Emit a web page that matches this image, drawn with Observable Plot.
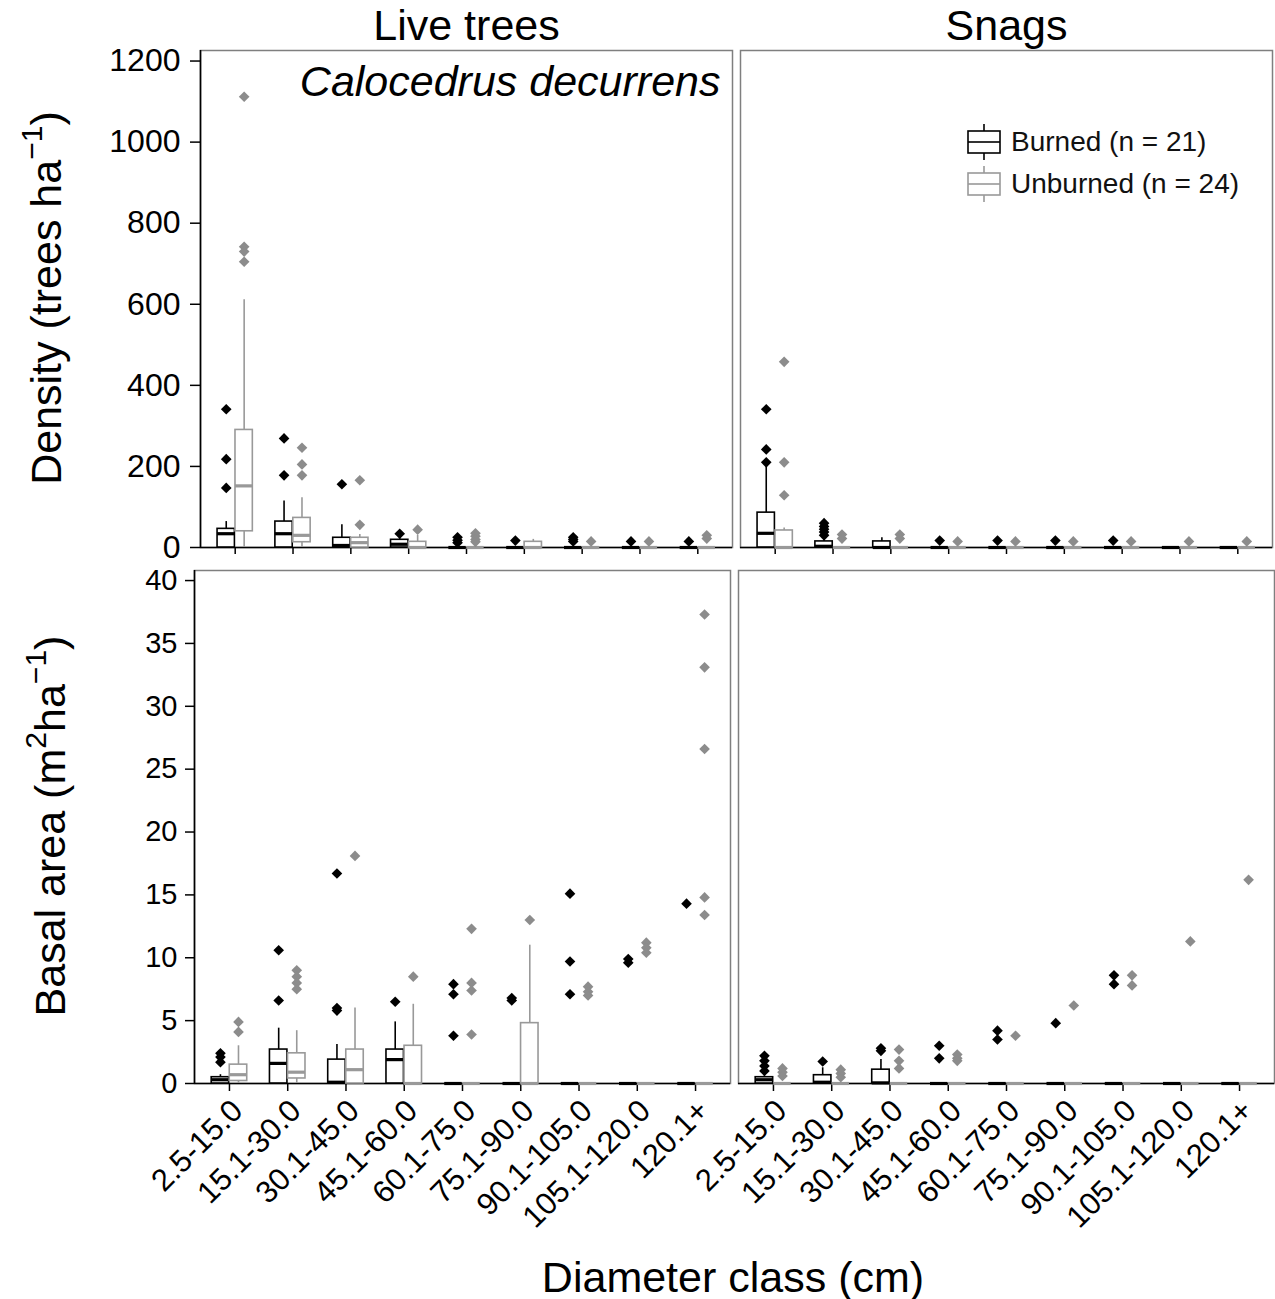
<!DOCTYPE html>
<html><head><meta charset="utf-8">
<script src="https://cdn.jsdelivr.net/npm/d3@7"></script>
<script src="https://cdn.jsdelivr.net/npm/@observablehq/plot@0.6"></script>
<style>
body{margin:0;background:#fff;font-family:"Liberation Sans",Arial,sans-serif;}
#wrap{position:relative;width:1275px;height:1299px;overflow:hidden;background:#fff}
#wrap svg{display:block}
.ytitle{position:absolute;white-space:nowrap;font-size:43px;color:#000;transform:translate(-50%,-50%) rotate(-90deg);line-height:1}
.ytitle sup{font-size:0.7em;vertical-align:0.6em;line-height:0}
.xtitle{position:absolute;white-space:nowrap;font-size:43px;color:#000;transform:translate(-50%,-50%);line-height:1}
.legend{position:absolute;left:965px;top:121px;}
.legend .row{display:flex;align-items:center;height:42px;font-size:28px;color:#111}
.legend svg{margin-right:8px}
</style></head><body><div id="wrap"></div><script>
const classes = ["2.5-15.0","15.1-30.0","30.1-45.0","45.1-60.0","60.1-75.0","75.1-90.0","90.1-105.0","105.1-120.0","120.1+"];
const panels = ["Live trees","Snags"];
const groups = ["Burned","Unburned"];
const yTicksDensity = [0,200,400,600,800,1000,1200];
const yTicksBasal = [0,5,10,15,20,25,30,35,40];

// box summaries per diameter class: [lower whisker, Q1, median, Q3, upper whisker]
const liveDensityBurned = [[0,0,34,46,64],[0,0,34,64,115],[0,0,5,24,56],[0,0,8,19,25],[0,0,0,0,0],[0,0,0,0,0],[0,0,0,0,0],[0,0,0,0,0],[0,0,0,0,0]];
const liveDensityBurnedOut = [[341,218,147],[269,178],[156],[34],[25,18,12],[17],[25,20,15],[15],[15]];
const liveDensityUnburned = [[0,40,152,290,611],[0,13,30,73,123],[0,0,12,24,32],[0,0,0,14,30],[0,0,0,0,0],[0,0,0,14,20],[0,0,0,0,0],[0,0,0,0,0],[0,0,0,0,0]];
const liveDensityUnburnedOut = [[1112,742,730,705],[246,205,178],[166,56],[44],[35,28,20,14],[],[15],[15],[30,22]];
const snagDensityBurned = [[0,0,35,86,205],[0,0,3,15,25],[0,0,0,15,24],[0,0,0,0,0],[0,0,0,0,0],[0,0,0,0,0],[0,0,0,0,0],[0,0,0,0,0],[0,0,0,0,0]];
const snagDensityBurnedOut = [[341,242,210],[60,52,45,38,30],[],[17],[17],[17],[17],[],[]];
const snagDensityUnburned = [[0,0,0,42,48],[0,0,0,0,0],[0,0,0,0,0],[0,0,0,0,0],[0,0,0,0,0],[0,0,0,0,0],[0,0,0,0,0],[0,0,0,0,0],[0,0,0,0,0]];
const snagDensityUnburnedOut = [[458,210,129],[32,22],[32,22],[15],[15],[15],[15],[15],[15]];

const liveBasalBurned = [[0,0,0.3,0.5,0.7],[0,0,1.6,2.7,4.4],[0,0,0.1,1.9,3.1],[0,0,1.9,2.7,4.9],[0,0,0,0,0],[0,0,0,0,0],[0,0,0,0,0],[0,0,0,0,0],[0,0,0,0,0]];
const liveBasalBurnedOut = [[2.4,2.1,1.7],[10.6,6.6],[16.7,6.0,5.8],[6.5],[7.9,7.1,3.8],[6.8,6.6],[15.1,9.7,7.1],[9.9,9.6],[14.3]];
const liveBasalUnburned = [[0,0.2,0.7,1.5,3.0],[0,0.4,0.9,2.4,4.2],[0,0,1.1,2.7,6.0],[0,0,0,3.0,6.3],[0,0,0,0,0],[0,0,0,4.8,11.0],[0,0,0,0,0],[0,0,0,0,0],[0,0,0,0,0]];
const liveBasalUnburnedOut = [[4.9,4.1],[9.0,8.5,8.0,7.5],[18.1],[8.5],[12.3,8.0,7.4,3.9],[13.0],[7.7,7.3,7.0],[11.2,10.8,10.4],[37.3,33.1,26.6,14.8,13.4]];
const snagBasalBurned = [[0,0,0.3,0.5,0.6],[0,0,0.1,0.66,1.25],[0,0,0.05,1.1,1.9],[0,0,0,0,0],[0,0,0,0,0],[0,0,0,0,0],[0,0,0,0,0],[0,0,0,0,0],[0,0,0,0,0]];
const snagBasalBurnedOut = [[2.2,1.8,1.4,1.0],[1.75],[2.8,2.6],[3.0,2.0],[4.2,3.5],[4.8],[8.6,7.9],[],[]];
const snagBasalUnburned = [[0,0,0,0,0],[0,0,0,0,0],[0,0,0,0,0],[0,0,0,0,0],[0,0,0,0,0],[0,0,0,0,0],[0,0,0,0,0],[0,0,0,0,0],[0,0,0,0,0]];
const snagBasalUnburnedOut = [[1.2,0.9,0.6],[1.1,0.8,0.5],[2.7,1.8,1.2],[2.3,2.0,1.8],[3.8],[6.2],[8.6,7.8],[11.3],[16.2]];

const lineColor = {Burned:"#000000", Unburned:"#999999"};
const pointColor = {Burned:"#000000", Unburned:"#8c8c8c"};
const xDomain = [-0.6, classes.length - 0.4];
const dodge = 0.155, halfWidth = 0.15;

function table(specs) {
  const boxes = [], outs = [];
  for (const s of specs) {
    s.stats.forEach((v, i) => {
      boxes.push({panel: s.panel, group: s.group, i, lo: v[0], q1: v[1], med: v[2], q3: v[3], hi: v[4]});
    });
    s.outs.forEach((arr, i) => arr.forEach(y => outs.push({panel: s.panel, group: s.group, i, y})));
  }
  return {boxes, outs};
}
const xc = d => d.i + (d.group === "Burned" ? -dodge : dodge);

function boxMarks(boxes, outs) {
  const marks = [];
  for (const g of groups) {
    const b = boxes.filter(d => d.group === g);
    const o = outs.filter(d => d.group === g);
    marks.push(
      Plot.ruleX(b, {fx: "panel", x: xc, y1: "lo", y2: "q1", stroke: lineColor[g], strokeWidth: 1.6}),
      Plot.ruleX(b, {fx: "panel", x: xc, y1: "q3", y2: "hi", stroke: lineColor[g], strokeWidth: 1.6}),
      Plot.rect(b, {fx: "panel", x1: d => xc(d) - halfWidth, x2: d => xc(d) + halfWidth, y1: "q1", y2: "q3", fill: "white", stroke: lineColor[g], strokeWidth: 1.6}),
      Plot.ruleY(b, {fx: "panel", y: "med", x1: d => xc(d) - halfWidth, x2: d => xc(d) + halfWidth, stroke: lineColor[g], strokeWidth: 3.2}),
      Plot.dot(o, {fx: "panel", x: xc, y: "y", symbol: "diamond2", r: 4.8, fill: pointColor[g], stroke: "none"})
    );
  }
  return marks;
}

const densityData = table([
  {panel: "Live trees", group: "Burned", stats: liveDensityBurned, outs: liveDensityBurnedOut},
  {panel: "Live trees", group: "Unburned", stats: liveDensityUnburned, outs: liveDensityUnburnedOut},
  {panel: "Snags", group: "Burned", stats: snagDensityBurned, outs: snagDensityBurnedOut},
  {panel: "Snags", group: "Unburned", stats: snagDensityUnburned, outs: snagDensityUnburnedOut}
]);
const basalData = table([
  {panel: "Live trees", group: "Burned", stats: liveBasalBurned, outs: liveBasalBurnedOut},
  {panel: "Live trees", group: "Unburned", stats: liveBasalUnburned, outs: liveBasalUnburnedOut},
  {panel: "Snags", group: "Burned", stats: snagBasalBurned, outs: snagBasalBurnedOut},
  {panel: "Snags", group: "Unburned", stats: snagBasalUnburned, outs: snagBasalUnburnedOut}
]);

const style = {fontFamily: "'Liberation Sans', Arial, sans-serif", background: "white", color: "#000", overflow: "visible"};

const densityPlot = Plot.plot({
  width: 1275, height: 555, marginTop: 50, marginBottom: 8, marginLeft: 199, marginRight: 2,
  style,
  fx: {domain: panels, paddingInner: 0.0139, paddingOuter: 0, label: null},
  x: {domain: xDomain},
  y: {domain: [0, 1226]},
  marks: [
    Plot.frame({stroke: "#7f7f7f", strokeWidth: 1.5}),
    Plot.axisFx({anchor: "top", tickSize: 0, tickPadding: 11, fontSize: 43, label: null}),
    Plot.axisY({ticks: yTicksDensity, tickFormat: d => String(d), tickSize: 10, tickPadding: 10, fontSize: 32, label: null, strokeWidth: 1.5}),
    Plot.axisX({ticks: d3.range(classes.length), tickSize: 7, tickFormat: () => "", label: null, strokeWidth: 1.5}),
    Plot.ruleY([0], {stroke: "#000", strokeWidth: 1.6}),
    Plot.ruleX([{panel: "Live trees"}], {fx: "panel", x: () => xDomain[0], stroke: "#000", strokeWidth: 1.6}),
    ...boxMarks(densityData.boxes, densityData.outs),
    Plot.text(["Calocedrus decurrens"], {fx: () => "Live trees", frameAnchor: "top-right", dx: -12, dy: 15, lineAnchor: "top", textAnchor: "end", fontSize: 43, fontStyle: "italic", fill: "#000"})
  ]
});

const basalPlot = Plot.plot({
  width: 1275, height: 744, marginTop: 15, marginBottom: 216, marginLeft: 194, marginRight: 0,
  style,
  fx: {domain: panels, paddingInner: 0.0147, paddingOuter: 0, label: null, axis: null},
  x: {domain: xDomain},
  y: {domain: [0, 40.8]},
  marks: [
    Plot.frame({stroke: "#7f7f7f", strokeWidth: 1.5}),
    Plot.axisY({ticks: yTicksBasal, tickFormat: d => String(d), tickSize: 9, tickPadding: 8, fontSize: 29, label: null, strokeWidth: 1.5}),
    Plot.axisX({ticks: d3.range(classes.length), tickSize: 8, tickFormat: () => "", label: null, strokeWidth: 1.5}),
    Plot.axisX({ticks: d3.range(classes.length), tickSize: 0, tickPadding: 22, dx: 8, tickRotate: -45, fontSize: 31, tickFormat: i => classes[i], label: null}),
    Plot.ruleY([0], {stroke: "#000", strokeWidth: 1.6}),
    Plot.ruleX([{panel: "Live trees"}], {fx: "panel", x: () => xDomain[0], stroke: "#000", strokeWidth: 1.6}),
    ...boxMarks(basalData.boxes, basalData.outs)
  ]
});

const wrap = document.getElementById("wrap");
wrap.appendChild(densityPlot);
wrap.appendChild(basalPlot);

function addDiv(cls, html, left, topPx) {
  const d = document.createElement("div");
  d.className = cls; d.innerHTML = html;
  d.style.left = left + "px"; d.style.top = topPx + "px";
  wrap.appendChild(d);
  return d;
}
addDiv("ytitle", "Density (trees ha<sup>&minus;1</sup>)", 46, 298);
addDiv("ytitle", "Basal area (m<sup>2</sup>ha<sup>&minus;1</sup>)", 50, 826);
addDiv("xtitle", "Diameter class (cm)", 733, 1277);

// legend
const legend = document.createElement("div");
legend.className = "legend";
for (const g of groups) {
  const row = document.createElement("div");
  row.className = "row";
  const label = g === "Burned" ? "Burned (n = 21)" : "Unburned (n = 24)";
  row.innerHTML = `<svg width="38" height="40" viewBox="0 0 38 40">
    <line x1="19" x2="19" y1="2" y2="38" stroke="${lineColor[g]}" stroke-width="1.6"/>
    <rect x="3" y="9" width="32" height="22" fill="white" stroke="${lineColor[g]}" stroke-width="1.6"/>
    <line x1="3" x2="35" y1="20" y2="20" stroke="${lineColor[g]}" stroke-width="1.6"/>
  </svg><span>${label}</span>`;
  legend.appendChild(row);
}
wrap.appendChild(legend);
</script></body></html>
